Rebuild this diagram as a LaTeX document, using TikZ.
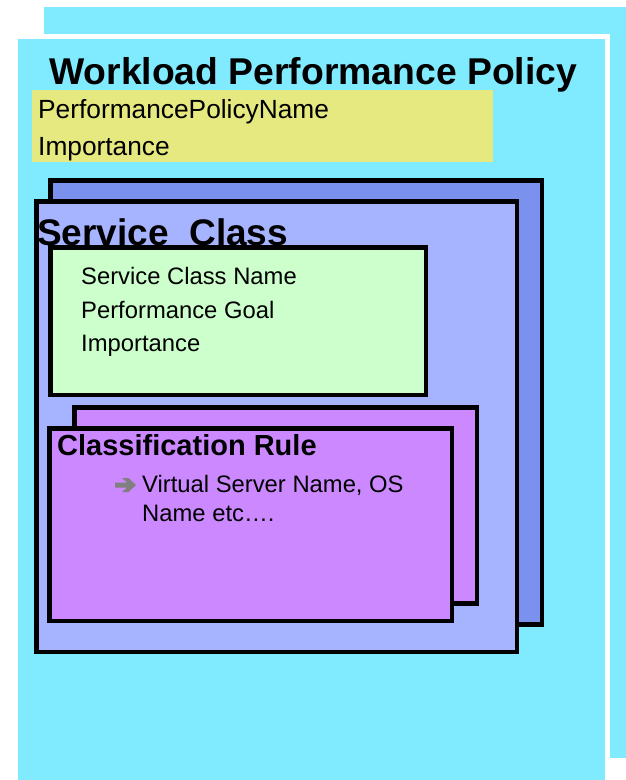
\documentclass[tikz,border=0pt]{standalone}
\usepackage{fontspec}
\setmainfont{Liberation Sans}
\definecolor{cyanbg}{HTML}{80EAFF}
\definecolor{polyellow}{HTML}{E6E97F}
\definecolor{scback}{HTML}{7A92EE}
\definecolor{scfront}{HTML}{A6B3FF}
\definecolor{scgreen}{HTML}{CCFFCC}
\definecolor{crpurple}{HTML}{CC88FF}
\definecolor{arrgray}{HTML}{808080}
\begin{document}
\begin{tikzpicture}[x=1pt,y=-1pt,
  box/.style={draw=black,line width=4.5pt},
  txt/.style={anchor=base west,inner sep=0pt,text=black}]
\useasboundingbox (0,0) rectangle (626,780);
% back policy sheet
\fill[cyanbg] (44,7) rectangle (626,758);
% front policy sheet
\draw[white,line width=5pt,fill=cyanbg] (15.5,36.5) rectangle (607.5,790);
\node[txt,font=\bfseries\fontsize{37.3}{37.3}\selectfont] (title) at (49,84) {Workload Performance Policy};
% yellow attributes
\fill[polyellow] (32,90) rectangle (493,162);
\node[txt,font=\fontsize{26.3}{26.3}\selectfont] (ppn) at (38,118) {PerformancePolicyName};
\node[txt,font=\fontsize{26.3}{26.3}\selectfont] (pimp) at (38,155) {Importance};
% service class sheets
\draw[box,fill=scback] (50.25,180.25) rectangle (541.75,624.25);
\draw[box,fill=scfront] (36.25,201.25) rectangle (516.75,651.75);
\node[txt,font=\bfseries\fontsize{37}{37}\selectfont] (sc) at (37,245) {Service\ \ Class};
\draw[box,fill=scgreen] (50.25,247.25) rectangle (425.75,394.75);
\node[txt,font=\fontsize{23.8}{23.8}\selectfont] (scn) at (81,284) {Service Class Name};
\node[txt,font=\fontsize{23.8}{23.8}\selectfont] (pg) at (81,318) {Performance Goal};
\node[txt,font=\fontsize{23.8}{23.8}\selectfont] (simp) at (81,351) {Importance};
% classification rule sheets
\draw[box,fill=crpurple] (74.25,407.25) rectangle (476.75,603.25);
\draw[box,fill=crpurple] (49.25,428.25) rectangle (451.75,620.75);
\node[txt,font=\bfseries\fontsize{29}{29}\selectfont] (cr) at (57,455) {Classification Rule};
% bullet arrow
\fill[arrgray] (115,482.5) -- (127,482.5) -- (122,478) -- (128.5,478) -- (136,485)
  -- (128.5,492) -- (122,492) -- (127,487.5) -- (115,487.5) -- cycle;
\node[txt,font=\fontsize{23.8}{23.8}\selectfont] (vs) at (142,492) {Virtual Server Name, OS};
\node[txt,font=\fontsize{23.8}{23.8}\selectfont] (ne) at (142,521) {Name etc….};
\end{tikzpicture}
\end{document}
